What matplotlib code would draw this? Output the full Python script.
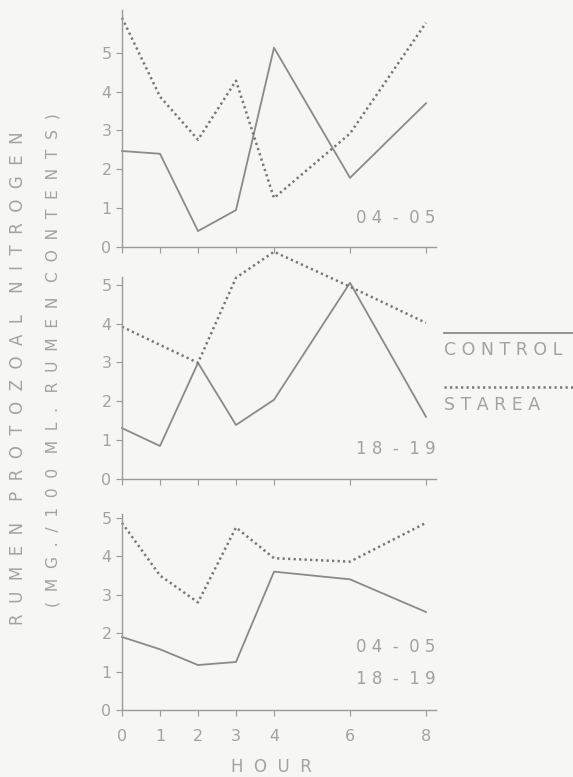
import matplotlib
matplotlib.use("Agg")
import matplotlib.pyplot as plt

hours = [0, 1, 2, 3, 4, 6, 8]
hour_labels = ["0", "1", "2", "3", "4", "6", "8"]
y_ticks = [0, 1, 2, 3, 4, 5]

control_0405 = [2.47, 2.40, 0.41, 0.95, 5.13, 1.78, 3.70]
starea_0405 = [5.90, 3.87, 2.76, 4.28, 1.26, 2.92, 5.77]
control_1819 = [1.31, 0.85, 2.99, 1.39, 2.04, 5.05, 1.60]
starea_1819 = [3.92, 3.45, 2.99, 5.18, 5.85, 4.95, 4.02]
control_both = [1.90, 1.58, 1.17, 1.25, 3.60, 3.40, 2.55]
starea_both = [4.87, 3.50, 2.80, 4.75, 3.95, 3.86, 4.87]

panel_labels = ["0 4  -  0 5", "1 8  -  1 9", "0 4  -  0 5\n1 8  -  1 9"]

BG = "#f6f6f4"
LINE = "#8a8a8a"
DOT = "#777777"
TEXT = "#a2a2a2"
AXIS = "#9a9a9a"

W, H = 573, 777
fig = plt.figure(figsize=(W / 100, H / 100), dpi=100, facecolor=BG)


def spaced(s, gap="  ", word_gap="      "):
    # stretch letters apart like the typewritten original
    return word_gap.join(gap.join(w) for w in s.split(" "))


def px_axes(left, y0, y_top_px, x_max=8.25, px_per_x=38.0):
    # left / y0 / y_top in pixel coords from the top-left corner
    width = x_max * px_per_x
    return fig.add_axes([left / W, 1 - y0 / H, width / W, (y0 - y_top_px) / H])


panels = [
    (px_axes(122, 247, 10), 6.1, control_0405, starea_0405, 218),
    (px_axes(122, 479, 277), 5.2, control_1819, starea_1819, 449),
    (px_axes(122, 710, 514), 5.1, control_both, starea_both, 663),
]

for i, (ax, ytop, ctrl, star, label_y) in enumerate(panels):
    ax.set_facecolor(BG)
    ax.plot(hours, ctrl, color=LINE, linewidth=1.3, clip_on=False)
    ax.plot(hours, star, color=DOT, linewidth=1.8, linestyle=(0, (0.9, 1.3)),
            clip_on=False)
    ax.set_xlim(0, 8.25)
    ax.set_ylim(0, ytop)
    ax.set_xticks(hours)
    ax.set_yticks(y_ticks)
    for s in ("top", "right"):
        ax.spines[s].set_visible(False)
    for s in ("left", "bottom"):
        ax.spines[s].set_color(AXIS)
        ax.spines[s].set_linewidth(1.0)
    ax.tick_params(axis="both", colors=AXIS, labelcolor=TEXT, labelsize=11.5,
                   direction="out", length=4, width=0.8)
    if i < 2:
        ax.set_xticklabels([])
    else:
        ax.set_xticklabels(hour_labels)
        ax.tick_params(axis="x", pad=10)
    fig.text(396 / W, 1 - label_y / H, panel_labels[i], ha="center", va="center",
             color=TEXT, fontsize=12, linespacing=2.0)

fig.text(271 / W, 1 - 767 / H, "H  O  U  R", ha="center", va="center",
         color=TEXT, fontsize=12)

fig.text(18 / W, 1 - 378 / H, spaced("RUMEN PROTOZOAL NITROGEN", word_gap="    "),
         rotation=90, ha="center", va="center", color=TEXT, fontsize=12)
fig.text(53 / W, 1 - 360 / H, spaced("(MG./100 ML. RUMEN CONTENTS)", word_gap="   "),
         rotation=90, ha="center", va="center", color=TEXT, fontsize=11.2)

# legend drawn by hand at the right of the middle panel
leg = fig.add_axes([440 / W, 1 - 420 / H, 133 / W, 100 / H])
leg.set_xlim(0, 1)
leg.set_ylim(420, 320)
leg.axis("off")
leg.plot([0.03, 1.0], [333, 333], color=LINE, linewidth=1.3)
leg.text(0.03, 350, "C O N T R O L", color=TEXT, fontsize=12.5, va="center", ha="left")
leg.plot([0.03, 1.0], [387, 387], color=DOT, linewidth=1.8, linestyle=(0, (0.9, 1.3)))
leg.text(0.03, 405, "S T A R E A", color=TEXT, fontsize=12.5, va="center", ha="left")

fig.savefig("out.png", dpi=100, facecolor=BG)
